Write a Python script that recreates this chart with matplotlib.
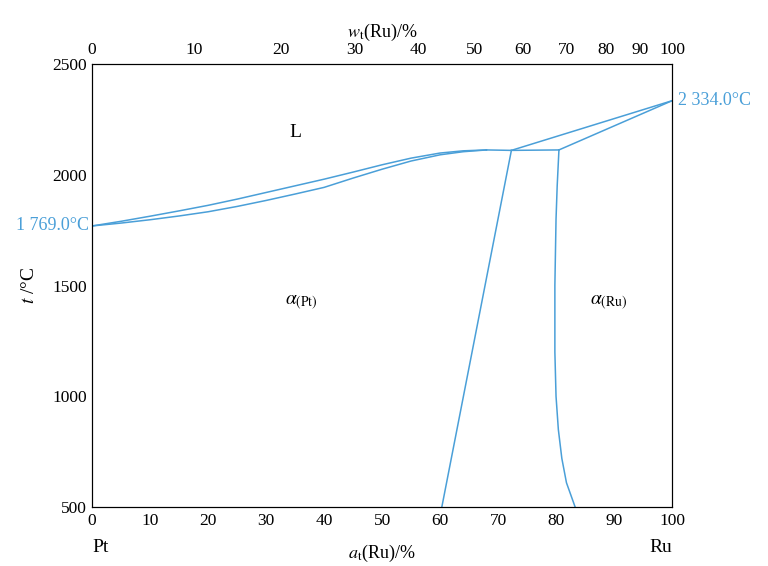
import numpy as np
import matplotlib.pyplot as plt

plt.rcParams['font.family'] = ['Liberation Serif', 'DejaVu Serif']
plt.rcParams['mathtext.fontset'] = 'stix'

BLUE = '#4a9fd8'

# phase boundaries, x in at.% Ru, t in degC
liq_x = [0, 5, 10, 15, 20, 25, 30, 35, 40, 45, 50, 55, 60, 64, 68]
liq_t = [1769, 1790, 1813, 1837, 1862, 1890, 1920, 1950, 1980, 2012, 2045, 2075, 2098, 2108, 2112]
sol_x = [0, 5, 10, 15, 20, 25, 30, 35, 40, 45, 50, 55, 60, 64, 68]
sol_t = [1769, 1782, 1797, 1814, 1833, 1857, 1884, 1913, 1943, 1985, 2025, 2062, 2090, 2104, 2112]
peri_x = [68, 72.3, 80.5]
peri_t = [2112, 2110, 2112]
liq_r_x = [72.3, 100]
liq_r_t = [2110, 2334]
sol_r_x = [80.5, 100]
sol_r_t = [2112, 2334]
solv_l_x = [72.3, 60.3]
solv_l_t = [2110, 500]
solv_r_x = [80.5, 80.2, 80.0, 79.8, 79.8, 80.0, 80.4, 81.0, 81.8, 83.3]
solv_r_t = [2112, 1950, 1800, 1500, 1200, 1000, 850, 720, 610, 500]

w_ticks = [0, 10, 20, 30, 40, 50, 60, 70, 80, 90, 100]
M_RU, M_PT = 101.07, 195.08


def wt_to_at(w):
    w = np.asarray(w, dtype=float)
    a = w / M_RU
    b = (100 - w) / M_PT
    return 100 * a / (a + b)


fig = plt.figure(figsize=(7.68, 5.66), dpi=100)
ax = fig.add_axes([0.12, 0.104, 0.755, 0.783])

for xs, ts in [(liq_x, liq_t), (sol_x, sol_t), (peri_x, peri_t),
               (liq_r_x, liq_r_t), (sol_r_x, sol_r_t),
               (solv_l_x, solv_l_t), (solv_r_x, solv_r_t)]:
    ax.plot(xs, ts, color=BLUE, lw=1.1)

ax.set_xlim(0, 100)
ax.set_ylim(500, 2500)
ax.set_xticks(range(0, 101, 10))
ax.set_yticks([500, 1000, 1500, 2000, 2500])
ax.tick_params(labelsize=12.5, direction='in', length=0, pad=4)
ax.set_ylabel(r'$t$ /°C', fontsize=14, labelpad=10)
ax.set_xlabel(r'$a_\mathrm{t}$(Ru)/%', fontsize=13, labelpad=10)

top = ax.twiny()
top.set_xlim(0, 100)
top.set_xticks(wt_to_at(w_ticks))
top.set_xticklabels([str(w) for w in w_ticks])
top.tick_params(labelsize=12.5, direction='in', length=0, pad=4)
top.set_xlabel(r'$w_\mathrm{t}$(Ru)/%', fontsize=13, labelpad=4)

ax.text(35, 2190, 'L', fontsize=14, ha='center', va='center')
ax.text(36, 1420, r'$\alpha_{\mathrm{(Pt)}}$', fontsize=14, ha='center', va='center')
ax.text(89, 1420, r'$\alpha_{\mathrm{(Ru)}}$', fontsize=14, ha='center', va='center')
ax.text(-0.5, 1769, '1 769.0°C', color=BLUE, fontsize=13, ha='right', va='center')
ax.text(101, 2334, '2 334.0°C', color=BLUE, fontsize=13, ha='left', va='center')
ax.text(0, 320, 'Pt', fontsize=14, ha='left', va='center')
ax.text(100, 320, 'Ru', fontsize=14, ha='right', va='center')

fig.savefig('out.png', dpi=100)
